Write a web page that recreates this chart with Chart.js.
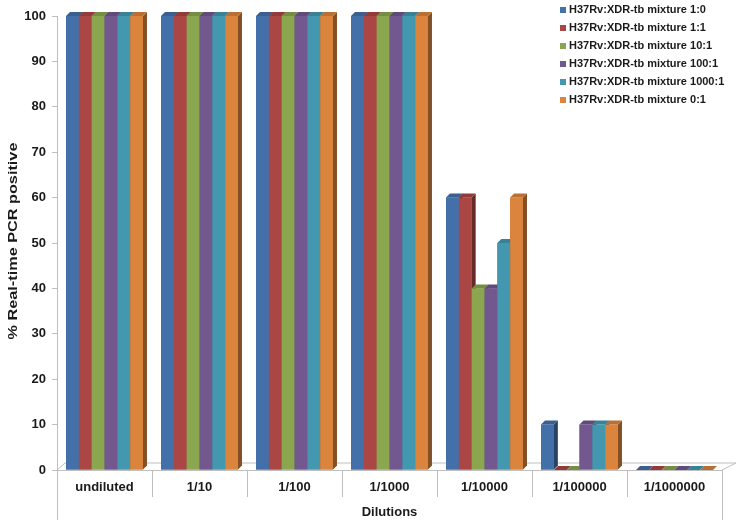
<!DOCTYPE html>
<html>
<head>
<meta charset="utf-8">
<script src="https://cdn.jsdelivr.net/npm/chart.js@4"></script>
<style>
  body { margin: 0; background: #fff; }
  #wrap { width: 745px; height: 525px; }
</style>
</head>
<body>
<div id="wrap"><canvas id="chart"></canvas></div>
<script>
const dilutions = ['undiluted', '1/10', '1/100', '1/1000', '1/10000', '1/100000', '1/1000000'];
const seriesNames = [
    'H37Rv:XDR-tb mixture 1:0',
    'H37Rv:XDR-tb mixture 1:1',
    'H37Rv:XDR-tb mixture 10:1',
    'H37Rv:XDR-tb mixture 100:1',
    'H37Rv:XDR-tb mixture 1000:1',
    'H37Rv:XDR-tb mixture 0:1'
];
const mix1to0 = [100, 100, 100, 100, 60, 10, 0];
const mix1to1 = [100, 100, 100, 100, 60, 0, 0];
const mix10to1 = [100, 100, 100, 100, 40, 0, 0];
const mix100to1 = [100, 100, 100, 100, 40, 10, 0];
const mix1000to1 = [100, 100, 100, 100, 50, 10, 0];
const mix0to1 = [100, 100, 100, 100, 60, 10, 0];
const yTicks = [0, 10, 20, 30, 40, 50, 60, 70, 80, 90, 100];
const yTitle = '% Real-time PCR positive';

const colors = ['#4470a9', '#aa4643', '#8aa74f', '#72588f', '#4398b0', '#db843d'];
const seriesValues = [mix1to0, mix1to1, mix10to1, mix100to1, mix1000to1, mix0to1];

const grey = '#bfbfbf';
const font = 'Liberation Sans, Arial, sans-serif';

function shade(hex, f) {
    const n = parseInt(hex.slice(1), 16);
    const r = Math.round(((n >> 16) & 255) * f);
    const g = Math.round(((n >> 8) & 255) * f);
    const b = Math.round((n & 255) * f);
    return `rgb(${r},${g},${b})`;
}

// fake the excel 3d look: floor behind, side and top faces on each bar
const bars3d = {
    id: 'bars3d',
    beforeDatasetsDraw(chart) {
        const ctx = chart.ctx;
        const a = chart.chartArea;
        const d = 8;
        ctx.save();
        ctx.strokeStyle = grey;
        ctx.lineWidth = 1;
        ctx.beginPath();
        ctx.moveTo(a.left, a.bottom);
        ctx.lineTo(a.left + d, a.bottom - d + 1);
        ctx.lineTo(a.right + d + 6, a.bottom - d + 1);
        ctx.lineTo(a.right, a.bottom);
        ctx.stroke();
        ctx.restore();
    },
    afterDatasetsDraw(chart) {
        const ctx = chart.ctx;
        const d = 4;
        ctx.save();
        chart.data.datasets.forEach((ds, i) => {
            const meta = chart.getDatasetMeta(i);
            meta.data.forEach(bar => {
                const l = bar.x - bar.width / 2;
                const r = bar.x + bar.width / 2;
                const top = bar.y;
                const base = bar.base;
                ctx.fillStyle = shade(colors[i], 0.6);
                ctx.beginPath();
                ctx.moveTo(r, top);
                ctx.lineTo(r + d, top - d);
                ctx.lineTo(r + d, base - d);
                ctx.lineTo(r, base);
                ctx.closePath();
                ctx.fill();
                ctx.fillStyle = shade(colors[i], 0.85);
                ctx.beginPath();
                ctx.moveTo(l, top);
                ctx.lineTo(l + d, top - d);
                ctx.lineTo(r + d, top - d);
                ctx.lineTo(r, top);
                ctx.closePath();
                ctx.fill();
                ctx.fillStyle = colors[i];
                ctx.fillRect(l, top, r - l, base - top);
            });
        });
        ctx.restore();
    },
    afterDraw(chart) {
        const ctx = chart.ctx;
        const a = chart.chartArea;
        const x = chart.scales.x;
        ctx.save();
        ctx.strokeStyle = grey;
        ctx.lineWidth = 1;
        ctx.beginPath();
        ctx.moveTo(a.left + 0.5, a.bottom);
        ctx.lineTo(a.left + 0.5, 520);
        ctx.moveTo(a.right + 0.5, a.bottom);
        ctx.lineTo(a.right + 0.5, 520);
        for (let i = 1; i < dilutions.length; i++) {
            const px = Math.round((x.getPixelForValue(i - 1) + x.getPixelForValue(i)) / 2) + 0.5;
            ctx.moveTo(px, a.bottom);
            ctx.lineTo(px, a.bottom + 27);
        }
        ctx.stroke();

        // y title, stretched along its length like in the original
        ctx.save();
        ctx.translate(13, 241);
        ctx.rotate(-Math.PI / 2);
        ctx.scale(1.25, 1);
        ctx.font = `bold 13px ${font}`;
        ctx.textAlign = 'center';
        ctx.textBaseline = 'middle';
        ctx.fillStyle = '#1a1a1a';
        ctx.fillText(yTitle, 0, 0);
        ctx.restore();

        // legend in the top right corner
        ctx.font = `bold 11px ${font}`;
        ctx.textBaseline = 'middle';
        ctx.textAlign = 'left';
        seriesNames.forEach((name, i) => {
            const y = 10 + 18 * i;
            ctx.fillStyle = colors[i];
            ctx.fillRect(560, y - 3, 6, 6);
            ctx.fillStyle = '#1a1a1a';
            ctx.fillText(name, 569, y);
        });
        ctx.restore();
    }
};

const config = {
    type: 'bar',
    data: {
        labels: dilutions,
        datasets: seriesNames.map((name, i) => ({
            label: name,
            data: seriesValues[i],
            backgroundColor: colors[i],
            borderWidth: 0,
            barPercentage: 1,
            categoryPercentage: 0.81
        }))
    },
    options: {
        responsive: true,
        maintainAspectRatio: false,
        animation: false,
        layout: {
            padding: { top: 16, right: 23, bottom: 0, left: 0 }
        },
        plugins: {
            legend: { display: false },
            tooltip: { enabled: false }
        },
        scales: {
            x: {
                offset: true,
                afterFit: scale => { scale.height = 55; },
                grid: { drawOnChartArea: false, drawTicks: false },
                border: { color: grey },
                ticks: {
                    padding: 10,
                    color: '#1a1a1a',
                    font: { family: font, size: 13, weight: 'bold' }
                },
                title: {
                    display: true,
                    text: 'Dilutions',
                    color: '#1a1a1a',
                    font: { family: font, size: 13, weight: 'bold' },
                    padding: { top: 0, bottom: 5 }
                }
            },
            y: {
                min: 0,
                max: 100,
                afterFit: scale => { scale.width = 57; },
                afterBuildTicks: scale => { scale.ticks = yTicks.map(v => ({ value: v })); },
                grid: { drawOnChartArea: false, tickLength: 5, color: grey },
                border: { color: grey },
                ticks: {
                    padding: 6,
                    color: '#1a1a1a',
                    font: { family: font, size: 13, weight: 'bold' }
                }
            }
        }
    },
    plugins: [bars3d]
};

new Chart(document.getElementById('chart'), config);
</script>
</body>
</html>
